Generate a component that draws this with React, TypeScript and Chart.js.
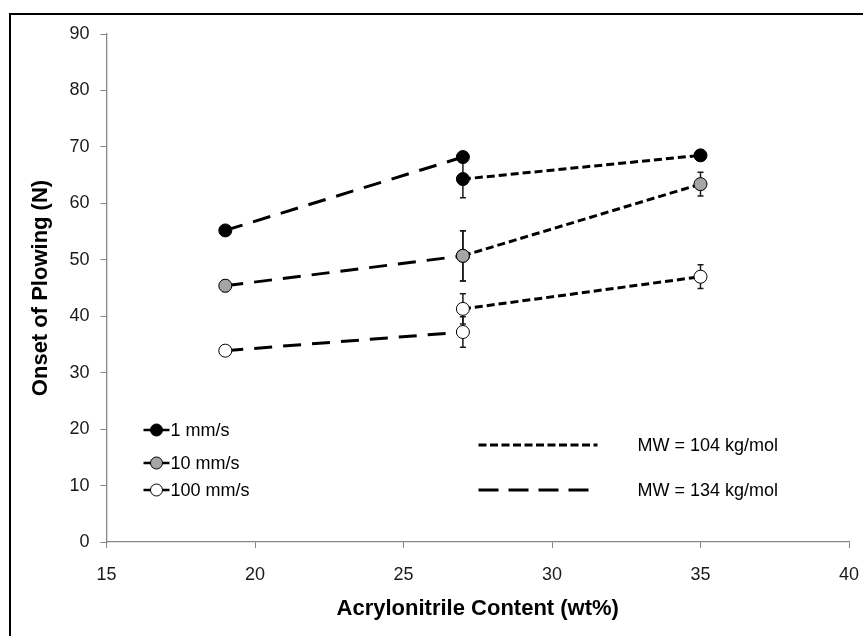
import React, { useEffect, useRef } from "react";
import { Chart, registerables } from "chart.js";

Chart.register(...registerables);

// Acrylonitrile content (wt%) for each molecular-weight series
const mw134X = [19, 27];
const mw104X = [27, 35];

// Onset of plowing (N), per sliding speed and molecular weight
const speed1Mw134 = [55.2, 68.2];
const speed1Mw104 = [64.3, 68.5];
const speed10Mw134 = [45.4, 50.7];
const speed10Mw104 = [50.7, 63.4];
const speed100Mw134 = [33.9, 37.2];
const speed100Mw104 = [41.3, 47.0];

// Standard deviations (N)
const speed1Mw134Err = [0.6, 0.6];
const speed1Mw104Err = [3.3, 0.5];
const speed10Mw134Err = [1.0, 4.45];
const speed10Mw104Err = [4.45, 2.1];
const speed100Mw134Err = [0.8, 2.7];
const speed100Mw104Err = [2.7, 2.1];

const xTicks = [15, 20, 25, 30, 35, 40];
const yTicks = [0, 10, 20, 30, 40, 50, 60, 70, 80, 90];

const speedLabels = ["1 mm/s", "10 mm/s", "100 mm/s"];
const speedFills = ["#000000", "#a5a5a5", "#ffffff"];
const mwLabels = ["MW = 104 kg/mol", "MW = 134 kg/mol"];

const SHORT_DASH = [8, 4];
const LONG_DASH = [18, 11];
const FONT = '"Liberation Sans", Arial, sans-serif';

const toPoints = (xs: number[], ys: number[]) => xs.map((x, i) => ({ x, y: ys[i] }));

const errorBars = {
  id: "errorBars",
  beforeDatasetsDraw(chart: any) {
    const { ctx } = chart;
    const yScale = chart.scales.y;
    ctx.save();
    ctx.strokeStyle = "#1a1a1a";
    ctx.lineWidth = 1.5;
    ctx.setLineDash([]);
    chart.data.datasets.forEach((ds: any, di: number) => {
      const errs: number[] | undefined = ds.errors;
      if (!errs) return;
      const meta = chart.getDatasetMeta(di);
      meta.data.forEach((pt: any, i: number) => {
        const v = ds.data[i].y;
        const e = errs[i];
        const top = yScale.getPixelForValue(v + e);
        const bot = yScale.getPixelForValue(v - e);
        const x = pt.x;
        ctx.beginPath();
        ctx.moveTo(x, top);
        ctx.lineTo(x, bot);
        ctx.moveTo(x - 3, top);
        ctx.lineTo(x + 3, top);
        ctx.moveTo(x - 3, bot);
        ctx.lineTo(x + 3, bot);
        ctx.stroke();
      });
    });
    ctx.restore();
  },
};

const keyPanel = {
  id: "keyPanel",
  afterDraw(chart: any) {
    const { ctx, chartArea } = chart;
    const l = chartArea.left;
    const t = chartArea.top;
    ctx.save();
    ctx.font = `18px ${FONT}`;
    ctx.textBaseline = "middle";
    ctx.textAlign = "left";

    // marker key
    const rows = [396, 429, 456];
    speedLabels.forEach((label, i) => {
      const y = t + rows[i];
      const x0 = l + 37;
      ctx.setLineDash([]);
      ctx.strokeStyle = "#000";
      ctx.lineWidth = 2.5;
      ctx.beginPath();
      ctx.moveTo(x0, y);
      ctx.lineTo(x0 + 26, y);
      ctx.stroke();
      ctx.beginPath();
      ctx.arc(x0 + 13, y, 6, 0, Math.PI * 2);
      ctx.fillStyle = speedFills[i];
      ctx.fill();
      ctx.lineWidth = 1;
      ctx.stroke();
      ctx.fillStyle = "#000";
      ctx.fillText(label, x0 + 27, y + 1);
    });

    // line-style key
    const dashes = [[8, 3.5], [20, 10]];
    const lineRows = [411, 456];
    mwLabels.forEach((label, i) => {
      const y = t + lineRows[i];
      ctx.strokeStyle = "#000";
      ctx.lineWidth = 3;
      ctx.setLineDash(dashes[i]);
      ctx.beginPath();
      ctx.moveTo(l + 372, y);
      ctx.lineTo(l + 491, y);
      ctx.stroke();
      ctx.setLineDash([]);
      ctx.fillStyle = "#000";
      ctx.fillText(label, l + 531, y + 1);
    });
    ctx.restore();
  },
};

function series(xs: number[], ys: number[], errs: number[], fill: string, dash: number[]) {
  return {
    data: toPoints(xs, ys),
    errors: errs,
    showLine: true,
    borderColor: "#000",
    borderWidth: 3,
    borderDash: dash,
    pointRadius: 6.5,
    pointBorderWidth: 1,
    pointBorderColor: "#000",
    pointBackgroundColor: fill,
    tension: 0,
  };
}

export default function App() {
  const canvasRef = useRef<HTMLCanvasElement | null>(null);

  useEffect(() => {
    if (!canvasRef.current) return;
    const chart = new Chart(canvasRef.current, {
      type: "scatter",
      data: {
        datasets: [
          series(mw134X, speed1Mw134, speed1Mw134Err, speedFills[0], LONG_DASH),
          series(mw104X, speed1Mw104, speed1Mw104Err, speedFills[0], SHORT_DASH),
          series(mw134X, speed10Mw134, speed10Mw134Err, speedFills[1], LONG_DASH),
          series(mw104X, speed10Mw104, speed10Mw104Err, speedFills[1], SHORT_DASH),
          series(mw134X, speed100Mw134, speed100Mw134Err, speedFills[2], LONG_DASH),
          series(mw104X, speed100Mw104, speed100Mw104Err, speedFills[2], SHORT_DASH),
        ] as any,
      },
      options: {
        animation: false,
        responsive: false,
        devicePixelRatio: 1,
        layout: { padding: { top: 34, right: 14, left: 0, bottom: 0 } },
        plugins: { legend: { display: false }, tooltip: { enabled: false } },
        scales: {
          x: {
            type: "linear",
            min: xTicks[0],
            max: xTicks[xTicks.length - 1],
            afterBuildTicks: (s: any) => {
              s.ticks = xTicks.map((v) => ({ value: v }));
            },
            afterFit: (s: any) => {
              s.height = 94;
              s.paddingLeft = 0;
              s.paddingRight = 0;
            },
            ticks: { font: { family: FONT, size: 18 }, color: "#1a1a1a", padding: 16 },
            grid: { drawOnChartArea: false, drawTicks: true, tickLength: 6, color: "#868686" },
            border: { color: "#868686", width: 1.3 },
            title: {
              display: true,
              text: "Acrylonitrile Content (wt%)",
              font: { family: FONT, size: 22, weight: "bold" },
              color: "#000",
              padding: { top: 0, bottom: 14 },
            },
          },
          y: {
            type: "linear",
            min: yTicks[0],
            max: yTicks[yTicks.length - 1],
            afterBuildTicks: (s: any) => {
              s.ticks = yTicks.map((v) => ({ value: v }));
            },
            afterFit: (s: any) => {
              s.width = 106.5;
              s.paddingTop = 0;
              s.paddingBottom = 0;
            },
            ticks: { font: { family: FONT, size: 18 }, color: "#1a1a1a", padding: 11 },
            grid: { drawOnChartArea: false, drawTicks: true, tickLength: 6, color: "#868686" },
            border: { color: "#868686", width: 1.3 },
            title: {
              display: true,
              text: "Onset of Plowing (N)",
              font: { family: FONT, size: 22, weight: "bold" },
              color: "#000",
              padding: { top: 28, bottom: 0 },
            },
          },
        },
      },
      plugins: [errorBars, keyPanel],
    });
    return () => chart.destroy();
  }, []);

  return (
    <div
      style={{
        position: "fixed",
        left: 0,
        top: 0,
        width: 863,
        height: 636,
        overflow: "hidden",
        background: "#fff",
      }}
    >
      <div
        style={{
          position: "absolute",
          left: 9,
          top: 13,
          width: 900,
          height: 700,
          border: "2px solid #000",
          boxSizing: "border-box",
        }}
      />
      <canvas
        ref={canvasRef}
        width={863}
        height={636}
        style={{ position: "absolute", left: 0, top: 0, width: 863, height: 636 }}
      />
    </div>
  );
}
